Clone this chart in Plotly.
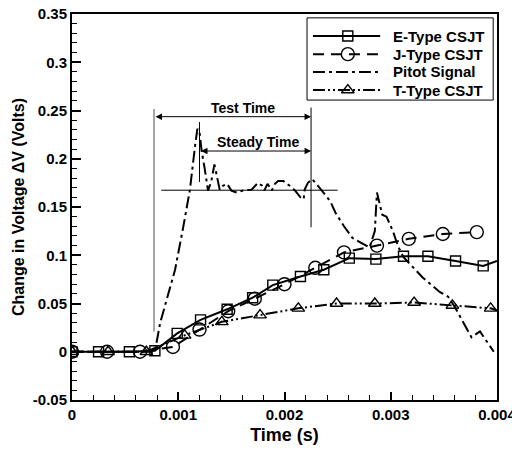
import plotly.graph_objects as go

# ---------------- data ----------------
e_x = [0, 0.00025, 0.00054, 0.00078, 0.00099, 0.00121, 0.00146, 0.0017, 0.00189,
       0.00215, 0.00237, 0.00261, 0.00286, 0.00312, 0.00335, 0.00361, 0.00387, 0.004]
e_y = [0, 0, 0, 0.001, 0.019, 0.033, 0.044, 0.056, 0.069,
       0.078, 0.085, 0.097, 0.096, 0.099, 0.099, 0.094, 0.089, 0.094]

j_x = [0, 0.00033, 0.00064, 0.00095, 0.0012, 0.00147, 0.00172, 0.002, 0.00229,
       0.00256, 0.00287, 0.00317, 0.00349, 0.00381]
j_y = [0, 0, 0, 0.005, 0.023, 0.042, 0.055, 0.070, 0.087,
       0.103, 0.110, 0.117, 0.122, 0.124]

t_x = [0, 0.00034, 0.0007, 0.00106, 0.00141, 0.00177, 0.00213, 0.00249, 0.00285,
       0.00322, 0.00358, 0.00394, 0.004]
t_y = [0, 0, 0, 0.017, 0.031, 0.038, 0.045, 0.050, 0.050,
       0.051, 0.048, 0.045, 0.043]

p_x = [0, 0.00078, 0.00083, 0.00097, 0.00104, 0.00111, 0.00116, 0.00118, 0.0012,
       0.00122, 0.00125, 0.00128, 0.00131, 0.00134, 0.00136, 0.00139, 0.00142,
       0.00146, 0.0015, 0.00155, 0.00161, 0.00169, 0.00175, 0.00179, 0.00181,
       0.00184, 0.00188, 0.00191, 0.00194, 0.00199, 0.00202, 0.00205, 0.0021,
       0.00215, 0.00218, 0.00219, 0.00222, 0.00226, 0.0023, 0.00235, 0.00243,
       0.00248, 0.00256, 0.00264, 0.0028, 0.00285, 0.00287, 0.00292, 0.00296,
       0.00302, 0.00307, 0.00312, 0.0033, 0.00346, 0.00354, 0.0036, 0.00376,
       0.00384, 0.00397]
p_y = [0, 0, 0.030, 0.085, 0.125, 0.168, 0.215, 0.231, 0.228,
       0.208, 0.189, 0.167, 0.176, 0.194, 0.184, 0.168, 0.172,
       0.174, 0.167, 0.165, 0.167, 0.168, 0.175, 0.172, 0.167,
       0.174, 0.167, 0.174, 0.177, 0.177, 0.174, 0.172, 0.167,
       0.160, 0.158, 0.168, 0.175, 0.179, 0.174, 0.167, 0.156,
       0.144, 0.130, 0.118, 0.108, 0.125, 0.165, 0.142, 0.140,
       0.125, 0.109, 0.098, 0.077, 0.062, 0.057, 0.047, 0.015,
       0.021, 0.0]

series_names = ["E-Type CSJT", "J-Type CSJT", "Pitot Signal", "T-Type CSJT"]

x_tickvals = [0, 0.001, 0.002, 0.003, 0.004]
x_ticktext = ["0", "0.001", "0.002", "0.003", "0.004"]
y_tickvals = [-0.05, 0, 0.05, 0.1, 0.15, 0.2, 0.25, 0.3, 0.35]
y_ticktext = ["-0.05", "0", "0.05", "0.1", "0.15", "0.2", "0.25", "0.3", "0.35"]

# annotation geometry (data units)
test_start, test_end = 0.000772, 0.00225
steady_start = 0.0012
test_arrow_y, steady_arrow_y = 0.2436, 0.208
steady_level, steady_line_x0, steady_line_x1 = 0.1674, 0.00084, 0.0025

FONT = "Liberation Sans, Arial, sans-serif"
BLACK = "black"

dash_j = "11px,7px"
dash_p = "12px,4px,3px,4px"
dash_t = "12px,3px,2px,3px,2px,3px"

fig = go.Figure()

# lines
fig.add_trace(go.Scatter(x=e_x, y=e_y, mode="lines", line=dict(color=BLACK, width=2)))
fig.add_trace(go.Scatter(x=j_x, y=j_y, mode="lines", line=dict(color=BLACK, width=2, dash=dash_j)))
fig.add_trace(go.Scatter(x=t_x, y=t_y, mode="lines", line=dict(color=BLACK, width=2, dash=dash_t)))
fig.add_trace(go.Scatter(x=p_x, y=p_y, mode="lines", line=dict(color=BLACK, width=2, dash=dash_p)))
# markers
fig.add_trace(go.Scatter(x=e_x[:-1], y=e_y[:-1], mode="markers",
                         marker=dict(symbol="square-open", size=10, color=BLACK, line=dict(width=1.4))))
fig.add_trace(go.Scatter(x=j_x, y=j_y, mode="markers",
                         marker=dict(symbol="circle-open", size=13, color=BLACK, line=dict(width=1.4))))
fig.add_trace(go.Scatter(x=t_x[:-1], y=t_y[:-1], mode="markers",
                         marker=dict(symbol="triangle-up-open", size=11, color=BLACK, line=dict(width=1.4))))

# ---------------- custom Tecplot-like legend on overlay axes ----------------
rows = [0.943, 0.896, 0.850, 0.803]
sx0, sx1, smid = 0.567, 0.725, 0.649
styles = [
    (dict(color=BLACK, width=2), "square-open", 10),
    (dict(color=BLACK, width=2, dash=dash_j), "circle-open", 13),
    (dict(color=BLACK, width=2, dash=dash_p), None, 0),
    (dict(color=BLACK, width=2, dash=dash_t), "triangle-up-open", 11),
]
for ry, (ln, sym, sz), name in zip(rows, styles, series_names):
    fig.add_trace(go.Scatter(x=[sx0, sx1], y=[ry, ry], mode="lines", line=ln,
                             xaxis="x2", yaxis="y2"))
    if sym:
        fig.add_trace(go.Scatter(x=[smid], y=[ry], mode="markers",
                                 marker=dict(symbol=sym, size=sz, color=BLACK, line=dict(width=1.4)),
                                 xaxis="x2", yaxis="y2"))
    fig.add_annotation(x=0.751, y=ry, xref="paper", yref="paper", text=name,
                       showarrow=False, xanchor="left", yanchor="middle",
                       font=dict(family=FONT, size=15, color=BLACK, weight="bold"))
fig.add_shape(type="rect", xref="paper", yref="paper", x0=0.553, x1=0.991, y0=0.777, y1=0.990,
              line=dict(color=BLACK, width=1), fillcolor="rgba(0,0,0,0)")

# ---------------- test / steady time annotations ----------------
fig.add_shape(type="line", x0=test_start, x1=test_start, y0=0.021, y1=0.2516,
              line=dict(color="#8a8a8a", width=1.5))
fig.add_shape(type="line", x0=test_end, x1=test_end, y0=0.129, y1=0.253,
              line=dict(color=BLACK, width=1))
fig.add_shape(type="line", x0=steady_start, x1=steady_start, y0=0.176, y1=0.238,
              line=dict(color=BLACK, width=1))
fig.add_shape(type="line", x0=steady_line_x0, x1=steady_line_x1, y0=steady_level, y1=steady_level,
              line=dict(color=BLACK, width=1))
for x0, x1, yy in [(test_start, test_end, test_arrow_y), (steady_start, test_end, steady_arrow_y)]:
    fig.add_annotation(x=x1, y=yy, ax=x0, ay=yy, xref="x", yref="y", axref="x", ayref="y",
                       text="", showarrow=True, arrowhead=2, arrowside="end+start",
                       arrowsize=1.3, arrowwidth=1, arrowcolor=BLACK, standoff=0, startstandoff=0)
fig.add_annotation(x=0.00161, y=0.2526, text="Test Time", showarrow=False,
                   font=dict(family=FONT, size=14, color=BLACK, weight="bold"))
fig.add_annotation(x=0.00175, y=0.217, text="Steady Time", showarrow=False,
                   font=dict(family=FONT, size=14, color=BLACK, weight="bold"))

axis_common = dict(showgrid=False, zeroline=False, showline=True, linecolor=BLACK, linewidth=2,
                   mirror=True, ticks="inside", tickcolor=BLACK, tickwidth=2, automargin=False,
                   ticklabeloverflow="allow",
                   tickfont=dict(family=FONT, size=15, color=BLACK, weight="bold"))

fig.update_layout(
    width=512, height=450,
    margin=dict(l=72, r=15, t=14, b=50),
    paper_bgcolor="white", plot_bgcolor="white",
    showlegend=False,
    xaxis=dict(range=[0, 0.004], tickvals=x_tickvals, ticktext=x_ticktext, ticklen=8,
               minor=dict(ticks="inside", dtick=0.0002, ticklen=5, tickwidth=1, tickcolor=BLACK),
               title=dict(text="Time (s)", standoff=6,
                          font=dict(family=FONT, size=18, color=BLACK, weight="bold")),
               **axis_common),
    yaxis=dict(range=[-0.05, 0.35], tickvals=y_tickvals, ticktext=y_ticktext, ticklen=9,
               minor=dict(ticks="inside", dtick=0.01, ticklen=5, tickwidth=1, tickcolor=BLACK),
               title=dict(text="Change in Voltage \u0394V (Volts)", standoff=4,
                          font=dict(family=FONT, size=16, color=BLACK, weight="bold")),
               **axis_common),
    xaxis2=dict(overlaying="x", range=[0, 1], visible=False, fixedrange=True),
    yaxis2=dict(overlaying="y", range=[0, 1], visible=False, fixedrange=True),
)

fig.write_html("out.html", config={"displayModeBar": False},
               post_script="document.body.style.margin='0';")
